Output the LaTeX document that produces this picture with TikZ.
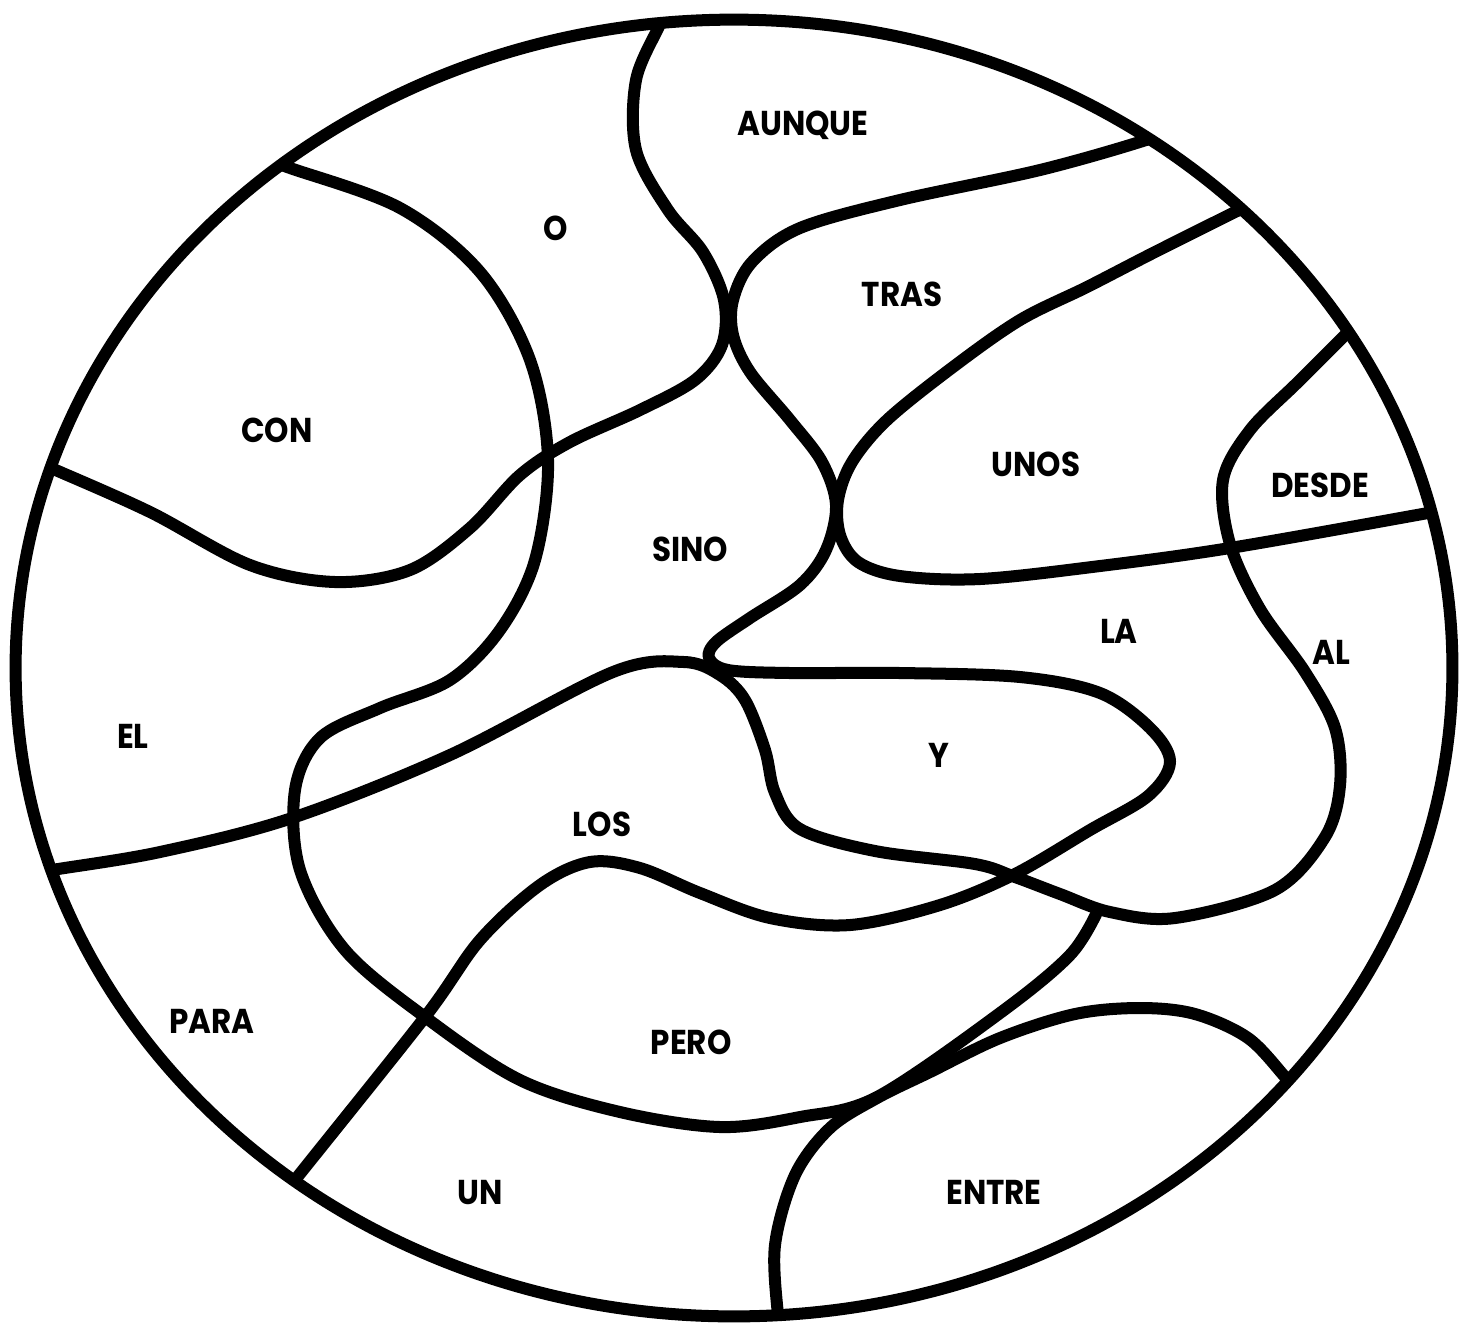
\documentclass[tikz,border=0pt]{standalone}
\usepackage{fontspec}
\newfontfamily\wordfont{Poppins}[FakeStretch=0.9]
\begin{document}
\begin{tikzpicture}[x=0.01cm,y=-0.01cm,
	wall/.style={line width=1.2mm,line cap=round,line join=round},
	word/.style={font=\wordfont\bfseries\fontsize{9.8}{12}\selectfont}]
	\useasboundingbox (0,0) rectangle (1474,1327);
	\begin{scope}
	\clip (734,668) ellipse [x radius=7.18cm,y radius=6.48cm];
	% O | AUNQUE, then CON | EL
	\draw[wall] plot[smooth,tension=0.55] coordinates {(672,-5) (660,24) (636,80) (636,150) (668,210) (703,252) (724,300) (722,345) (695,380) (640,410) (570,442) (520,475) (470,528) (410,570) (335,582) (250,565) (150,512) (51,468) (20,455)};
	% AUNQUE | TRAS, SINO, top of Y, LOS | PERO, PARA | UN
	\draw[wall] plot[smooth,tension=0.55] coordinates {(1180,125) (1146,140) (1040,170) (900,200) (800,228) (752,262) (733,300) (733,335) (750,372) (790,420) (822,462) (836,505) (826,550) (800,585) (750,618) (716,642) (709,658) (728,670) (790,673) (900,673) (1020,677) (1100,693) (1150,728) (1170,762) (1148,796) (1090,830) (1015,874) (940,905) (850,925) (770,918) (700,893) (640,868) (590,862) (540,885) (480,940) (425,1017) (295,1180) (280,1200)};
	% EL | LOS, bottom of Y, LA | AL, UNOS | DESDE
	\draw[wall] plot[smooth,tension=0.55] coordinates {(20,876) (52,870) (160,852) (292,818) (450,755) (613,672) (684,662) (720,675) (745,700) (765,750) (775,793) (800,829) (875,851) (975,864) (1015,877) (1060,894) (1110,912) (1175,918) (1275,890) (1325,837) (1340,785) (1335,728) (1305,672) (1260,609) (1230,544) (1223,480) (1250,430) (1298,382) (1350,330) (1370,310)};
	% TRAS | UNOS | LA, DESDE | AL
	\draw[wall] plot[smooth,tension=0.55] coordinates {(1270,195) (1233,213) (1153,253) (1087,287) (1020,320) (953,367) (887,420) (852,462) (838,500) (840,535) (858,562) (900,576) (980,579) (1100,566) (1230,548) (1428,513) (1460,507)};
	% CON | O, SINO | EL, LOS | PARA, PERO
	\draw[wall] plot[smooth,tension=0.55] coordinates {(260,158) (290,168) (400,208) (480,272) (530,360) (548,460) (535,560) (500,630) (450,680) (380,708) (320,738) (295,790) (300,870) (345,950) (425,1017) (520,1080) (620,1112) (720,1127) (800,1117) (877,1097) (1000,1013) (1070,955) (1098,910)};
	% ENTRE
	\draw[wall] plot[smooth,tension=0.55] coordinates {(1305,1100) (1286,1078) (1248,1038) (1195,1014) (1140,1008) (1075,1014) (1000,1038) (930,1072) (877,1098) (830,1128) (795,1175) (775,1245) (778,1316) (782,1340)};
	\end{scope}
	\draw[wall] (734,668) ellipse [x radius=7.18cm,y radius=6.48cm];
	\node[word] (aunque) at (803,125) {AUNQUE};
	\node[word] (o) at (556,228) {O};
	\node[word] (tras) at (902,294) {TRAS};
	\node[word] (con) at (277,430) {CON};
	\node[word] (unos) at (1036,464) {UNOS};
	\node[word] (desde) at (1320,485) {DESDE};
	\node[word] (sino) at (690,549) {SINO};
	\node[word] (la) at (1119,631) {LA};
	\node[word] (al) at (1331,652) {AL};
	\node[word] (el) at (133,736) {EL};
	\node[word] (y) at (939,755) {Y};
	\node[word] (los) at (602,824) {LOS};
	\node[word] (para) at (212,1021) {PARA};
	\node[word] (pero) at (691,1042) {PERO};
	\node[word] (un) at (480,1192) {UN};
	\node[word] (entre) at (994,1192) {ENTRE};
\end{tikzpicture}
\end{document}
